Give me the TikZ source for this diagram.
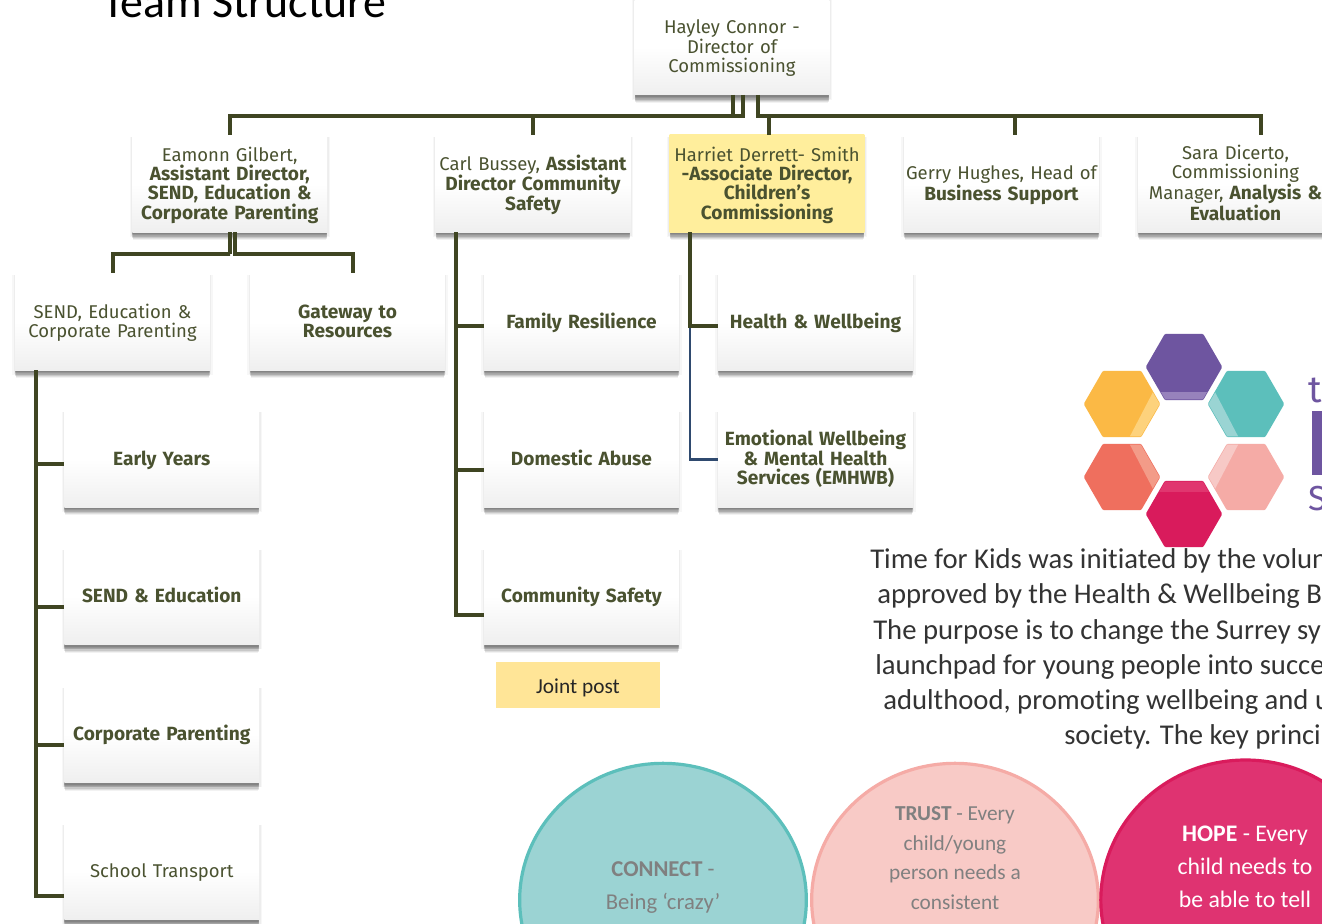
\documentclass[tikz,border=0pt]{standalone}
\usepackage{fontspec}
\usetikzlibrary{calc,shadows,shapes.geometric}
\setmainfont[BoldFeatures={Scale=1.035}]{Fira Sans}
\newfontfamily\carl[Ligatures=NoCommon]{Carlito}
\definecolor{ink}{HTML}{4A5230}
\definecolor{conn}{HTML}{3F4522}
\definecolor{boxbot}{HTML}{EFEFEF}
\definecolor{hexpurple}{HTML}{6E55A0}
\definecolor{hexpurplel}{HTML}{9782BC}
\definecolor{hexorange}{HTML}{FBB945}
\definecolor{hexorangel}{HTML}{FDD27C}
\definecolor{hexteal}{HTML}{5CBFBB}
\definecolor{hextealb}{HTML}{9AD4D3}
\definecolor{hexcoral}{HTML}{EF6F5E}
\definecolor{hexcorall}{HTML}{F39B88}
\definecolor{hexpink}{HTML}{F5ABA6}
\definecolor{hexpinkl}{HTML}{F7C9C6}
\definecolor{hexred}{HTML}{D91B5C}
\definecolor{hexredl}{HTML}{E0366F}
\definecolor{hexnavy}{HTML}{2F4A6F}
\definecolor{boxyellow}{HTML}{FFEE9C}
\definecolor{paraink}{HTML}{333333}
\definecolor{bubgrey}{HTML}{808080}
\definecolor{jointfill}{HTML}{FFE597}
\definecolor{bubteal}{HTML}{9BD3D3}
\definecolor{bubpink}{HTML}{F8CAC6}
\definecolor{bubred}{HTML}{DF3371}
\newcommand{\topstrut}{\vrule height 14.4pt depth 0pt width 0pt\relax}
\newcommand{\botstrut}{\vrule height 0pt depth 4.5pt width 0pt\relax}
\tikzset{
  x=0.75pt,y=-0.75pt,
  conline/.style={draw=conn,line width=3pt,line cap=butt,line join=miter},
  thinline/.style={draw=hexnavy,line width=1.6pt},
  softshadow/.style={
    general shadow={fill=black,fill opacity=.03,shadow xshift=0pt,shadow yshift=-2.6pt,shadow scale=1.028},
    general shadow={fill=black,fill opacity=.04,shadow xshift=0pt,shadow yshift=-2.4pt,shadow scale=1.016},
    general shadow={fill=black,fill opacity=.05,shadow xshift=0pt,shadow yshift=-6.5pt,shadow scale=.99},
    general shadow={fill=black,fill opacity=.08,shadow xshift=0pt,shadow yshift=-5.5pt,shadow scale=.995},
    general shadow={fill=black,fill opacity=.1,shadow xshift=0pt,shadow yshift=-4.5pt},
    general shadow={fill=black,fill opacity=.1,shadow xshift=0pt,shadow yshift=-3.5pt},
    general shadow={fill=black,fill opacity=.1,shadow xshift=0pt,shadow yshift=-2.5pt},
    general shadow={fill=black,fill opacity=.1,shadow xshift=0pt,shadow yshift=-1.5pt}},
  orgbox/.style={rectangle,softshadow,top color=white,bottom color=boxbot,middle color=white,
    minimum width=146pt,minimum height=72.75pt,inner sep=0pt,outer sep=0pt,
    align=center,text=ink,font=\fontsize{13.85pt}{14.5pt}\selectfont,text width=145pt,
    execute at begin node=\topstrut,execute at end node=\botstrut},
  yellowbox/.style={orgbox,top color=boxyellow,bottom color=boxyellow,middle color=boxyellow},
  bubble/.style={ellipse,line width=2.4pt,inner sep=0pt,outer sep=0pt},
  bubtext/.style={align=center},
  para/.style={anchor=base west,inner sep=0pt,font=\carl\fontsize{21.5pt}{24pt}\selectfont,text=paraink},
}
\newcommand{\hexpath}[3]{% cx cy R
  ($(#1,#2)+(-#3,0)$) -- ($(#1,#2)+(-#3/2,-#3*.866)$) -- ($(#1,#2)+(#3/2,-#3*.866)$) --
  ($(#1,#2)+(#3,0)$) -- ($(#1,#2)+(#3/2,#3*.866)$) -- ($(#1,#2)+(-#3/2,#3*.866)$) -- cycle}
\begin{document}
\begin{tikzpicture}
\useasboundingbox (0,0) rectangle (1322,924);
\clip (0,0) rectangle (1322,924);
\fill[white] (0,0) rectangle (1322,924);

% title
\node[anchor=base west,inner sep=0pt,font=\carl\fontsize{34.4pt}{40pt}\selectfont,text=black] (title) at (102,18) {Team Structure};

% org boxes
\node[orgbox] (hayley) at (732,46.5) {Hayley Connor -\\Director of\\Commissioning};
\node[orgbox] (eamonn) at (229.75,183.5) {Eamonn Gilbert,\\\textbf{Assistant Director,}\\\textbf{SEND, Education \&}\\\textbf{Corporate Parenting}};
\node[orgbox] (carl) at (533,183.5) {Carl Bussey, \textbf{Assistant}\\\textbf{Director Community}\\\textbf{Safety}};
\node[yellowbox] (harriet) at (767,183.5) {Harriet Derrett- Smith\\\textbf{-Associate Director,}\\\textbf{Children's}\\\textbf{Commissioning}};
\node[orgbox] (gerry) at (1001.5,183.5) {Gerry Hughes, Head of\\\textbf{Business Support}};
\node[orgbox] (sara) at (1235.5,183.5) {Sara Dicerto,\\Commissioning\\Manager, \textbf{Analysis \&}\\\textbf{Evaluation}};

\node[orgbox] (sendcp) at (112.5,321.5) {SEND, Education \&\\Corporate Parenting};
\node[orgbox] (gateway) at (347.5,321.5) {\textbf{Gateway to}\\\textbf{Resources}};
\node[orgbox] (family) at (581.5,321.5) {\textbf{Family Resilience}};
\node[orgbox] (domestic) at (581.5,458.5) {\textbf{Domestic Abuse}};
\node[orgbox] (community) at (581.5,596) {\textbf{Community Safety}};
\node[orgbox] (health) at (815.5,321.5) {\textbf{Health \& Wellbeing}};
\node[orgbox] (emhwb) at (815.5,458.5) {\textbf{Emotional Wellbeing}\\\textbf{\& Mental Health}\\\textbf{Services (EMHWB)}};
\node[orgbox] (early) at (161.75,458.5) {\textbf{Early Years}};
\node[orgbox] (sended) at (161.75,596) {\textbf{SEND \& Education}};
\node[orgbox] (corp) at (161.75,734) {\textbf{Corporate Parenting}};
\node[orgbox] (school) at (161.75,871) {School Transport};

\node[rectangle,fill=jointfill,minimum width=123pt,minimum height=34.5pt,inner sep=0pt,font=\carl\fontsize{16pt}{18pt}\selectfont,text=black!85] (joint) at (578,685) {\raisebox{-6pt}[0pt][0pt]{Joint post}};

% connectors
\coordinate (busa) at (733,116.5);
\coordinate (busb) at (742.5,116.5);
\coordinate (busc) at (757.5,116.5);
\draw[conline] (hayley.south -| busa) -- (busa) -| (eamonn.north);
\draw[conline] (hayley.south -| busb) -- (busb) -| (carl.north);
\draw[conline] (hayley.south -| busc) -- (busc) -| ($(harriet.north)+(2,0)$);
\draw[conline] (busc) -| ($(gerry.north)+(13.5,0)$);
\draw[conline] (busc) -| ($(sara.north)+(25.5,0)$);

\coordinate (ebus) at (230,254);
\coordinate (ebusb) at (235,254);
\draw[conline] (eamonn.south) |- (ebus) -| (sendcp.north);
\draw[conline] (eamonn.south -| ebusb) -- (ebusb) -| ($(gateway.north)+(5.5,0)$);

\coordinate (ctrunk) at (455.5,232);
\draw[conline] (carl.south -| ctrunk) |- ($(family.west)+(0,4.5)$);
\draw[conline] (carl.south -| ctrunk) |- ($(domestic.west)+(0,11.5)$);
\draw[conline] (carl.south -| ctrunk) |- ($(community.west)+(0,18.5)$);

\coordinate (htrunk) at (690,232);
\draw[thinline] ($(harriet.south -| htrunk)+(0,94)$) |- ($(emhwb.west)+(0,1)$);
\draw[conline] (harriet.south -| htrunk) |- ($(health.west)+(0,4.5)$);

\coordinate (strunk) at (35.5,370);
\draw[conline] (sendcp.south -| strunk) |- ($(early.west)+(0,5.5)$);
\draw[conline] (sendcp.south -| strunk) |- ($(sended.west)+(0,11)$);
\draw[conline] (sendcp.south -| strunk) |- ($(corp.west)+(0,11)$);
\draw[conline] (sendcp.south -| strunk) |- ($(school.west)+(0,25)$);

% logo
\begin{scope}[line join=round,line width=3pt]
\foreach \cx/\cy/\col in {1184/367/hexpurple,1122/404/hexorange,1246/404/hexteal,1122/477/hexcoral,1246/477/hexpink,1184/514/hexred}{
  \filldraw[fill=\col,draw=\col] \hexpath{\cx}{\cy}{36};
}
\end{scope}
\begin{scope}
\clip \hexpath{1184}{367}{37.5}; \fill[hexpurplel] (1140,392) rectangle (1230,405);
\end{scope}
\begin{scope}
\clip \hexpath{1184}{514}{37.5}; \fill[hexredl] (1140,475) rectangle (1230,492);
\end{scope}
\begin{scope}
\clip \hexpath{1122}{404}{37.5}; \fill[hexorangel] (1160,404) -- (1153,392) -- (1128,440) -- (1150,445) -- cycle;
\end{scope}
\begin{scope}
\clip \hexpath{1246}{404}{37.5}; \fill[hextealb] (1208,404) -- (1215,392) -- (1240,440) -- (1215,445) -- cycle;
\end{scope}
\begin{scope}
\clip \hexpath{1122}{477}{37.5}; \fill[hexcorall] (1160,477) -- (1153,489) -- (1128,441) -- (1150,436) -- cycle;
\end{scope}
\begin{scope}
\clip \hexpath{1246}{477}{37.5}; \fill[hexpinkl] (1208,477) -- (1215,489) -- (1240,441) -- (1215,436) -- cycle;
\end{scope}
\node[anchor=base west,inner sep=0pt,text=hexpurple,font=\fontsize{28pt}{30pt}\selectfont] (logot) at (1308,402) {t};
\fill[hexpurple] (1312,411) rectangle (1322,475);
\node[anchor=base west,inner sep=0pt,text=hexpurple,font=\fontsize{26pt}{30pt}\selectfont] (logos) at (1308,510) {S};

% paragraph
\node[para] (p1) at (870,568) {Time for Kids was initiated by the volun};
\node[para] (p2) at (877,603) {approved by the Health \& Wellbeing B};
\node[para] (p3) at (873,639) {The purpose is to change the Surrey sy};
\node[para] (p4) at (875,674) {launchpad for young people into succe};
\node[para] (p5) at (883,709) {adulthood, promoting wellbeing and u};
\node[para] (p6) at (1064,744) {society. The key princi};

% bubbles
\node[bubble,fill=bubteal,draw=hexteal,minimum width=215pt,minimum height=205pt] (connect) at (663,900) {};
\node[bubble,fill=bubpink,draw=hexpink,minimum width=215pt,minimum height=205pt] (trust) at (955,900) {};
\node[bubble,fill=bubred,draw=hexred,minimum width=217pt,minimum height=210pt] (hope) at (1245.5,900) {};
\node[bubtext,text=bubgrey,anchor=base,font=\carl\fontsize{17pt}{24.75pt}\selectfont] (ct) at (663,876) {\textbf{CONNECT} -};
\node[bubtext,text=bubgrey,anchor=base,font=\carl\fontsize{17pt}{24.75pt}\selectfont] (ct2) at (663,909) {Being ‘crazy’};
\node[bubtext,text=bubgrey,anchor=base,font=\carl\fontsize{16pt}{22.2pt}\selectfont] (tt) at (955,820) {\textbf{TRUST} - Every};
\node[bubtext,text=bubgrey,anchor=base,font=\carl\fontsize{16pt}{22.2pt}\selectfont] (tt2) at (955,850) {child/young};
\node[bubtext,text=bubgrey,anchor=base,font=\carl\fontsize{16pt}{22.2pt}\selectfont] (tt3) at (955,879) {person needs a};
\node[bubtext,text=bubgrey,anchor=base,font=\carl\fontsize{16pt}{22.2pt}\selectfont] (tt4) at (955,909) {consistent};
\node[bubtext,text=bubgrey,anchor=base,font=\carl\fontsize{16pt}{22.2pt}\selectfont] (tt5) at (955,939) {relationship with};
\node[bubtext,text=white,anchor=base,font=\carl\fontsize{17.8pt}{24.75pt}\selectfont] (ht) at (1245,841) {\textbf{HOPE} - Every};
\node[bubtext,text=white,anchor=base,font=\carl\fontsize{17.8pt}{24.75pt}\selectfont] (ht2) at (1245,874) {child needs to};
\node[bubtext,text=white,anchor=base,font=\carl\fontsize{17.8pt}{24.75pt}\selectfont] (ht3) at (1245,907) {be able to tell};
\end{tikzpicture}
\end{document}
